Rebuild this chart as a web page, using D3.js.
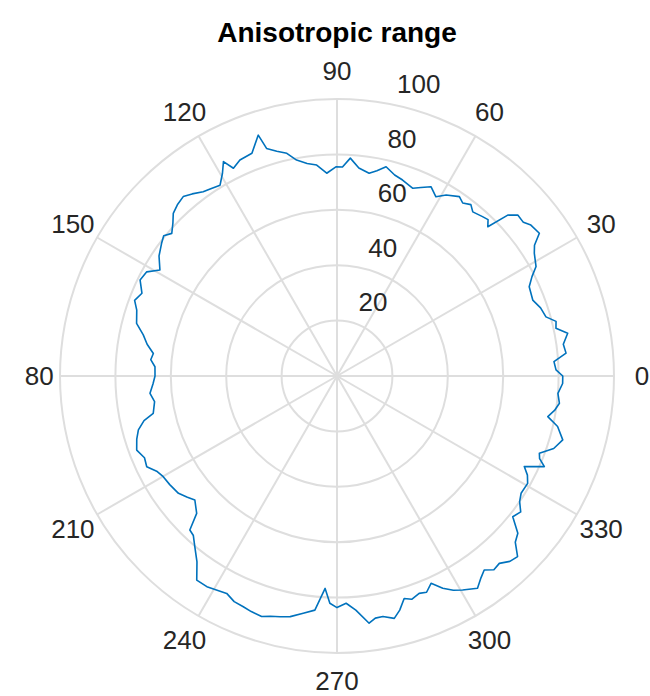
<!DOCTYPE html>
<html>
<head>
<meta charset="utf-8">
<script src="https://cdn.jsdelivr.net/npm/d3@7"></script>
<style>
  html, body { margin: 0; padding: 0; background: #fff; }
  svg { display: block; }
</style>
</head>
<body>
<svg id="chart" width="650" height="696"></svg>
<script>
// ---- data ----
const titleText = "Anisotropic range";
const rTicks = [20, 40, 60, 80, 100];
const rTickLabels = ["20", "40", "60", "80", "100"];
const thetaTicks = [0, 30, 60, 90, 120, 150, 180, 210, 240, 270, 300, 330];
const thetaTickLabels = ["0", "30", "60", "90", "120", "150", "80", "210", "240", "270", "300", "330"];
const anglesDeg = [
  0, 1.6, 3.8, 5.7, 8, 10.5, 12.3, 14, 15.8, 18.5, 21.2, 24.9, 27, 28.8, 31.9, 33.5, 35.2, 37.9, 39.5, 41.7,
  43.3, 44.7, 46, 47.6, 50.4, 52, 54, 55.7, 58.9, 61.1, 63.6, 66, 68, 71.5, 74, 76.8, 79, 81, 84, 86.5,
  88.5, 90.3, 92.9, 95.5, 98, 100.6, 102.7, 105, 107.2, 108.1, 110.9, 114.2, 116.5, 117.9, 119.5, 121.5, 124, 126, 128.5, 130.6,
  133, 135.2, 137, 139.2, 141, 142.9, 146, 149.1, 151.3, 154, 157, 159.5, 161.8, 165.3, 168, 170.5, 173, 175, 177.1, 180,
  182.5, 185.3, 188, 191.5, 193, 195.2, 197.5, 200.3, 203, 205.5, 208, 210.1, 213, 216.5, 219, 221.1, 224.4, 226.3, 228, 230.2,
  233, 235.5, 238.3, 243.1, 245.5, 247.9, 250, 252.6, 254.5, 256.7, 259, 261.9, 264.6, 266.8, 268.2, 270, 272.3, 274.6, 277.4, 279,
  280.8, 283.3, 285, 286.8, 288.5, 290.7, 292.5, 294.4, 296.5, 298.5, 300.4, 303.5, 305.5, 307.2, 309, 310.9, 313, 315, 317, 319,
  321.3, 323.5, 325.5, 327.5, 330.6, 332.5, 334.2, 336.4, 337.8, 339.1, 341.5, 344.2, 347.1, 349.1, 351, 353, 355.5, 358.1
];
const rangeValues = [
  81.5, 79.1, 78.5, 83.1, 82.5, 84.7, 80.9, 81.5, 78.4, 77.5, 75.8, 76.5, 79, 82, 83.9, 85.5, 89.4, 88.7, 87.2, 87.4,
  84.7, 76.6, 78.5, 77.9, 76.9, 78.5, 77.2, 78.4, 76.3, 73.9, 76.3, 74.5, 73.1, 74.6, 75.5, 77.6, 75.5, 74.1, 75.5, 78.8,
  75.5, 75.5, 73.3, 76.5, 77.5, 79.3, 82.4, 84, 86, 91.5, 86.1, 85.5, 83.8, 87.6, 84, 80.8, 81.5, 82.2, 84, 85.3,
  84.5, 83.3, 81, 78.8, 80.5, 79.4, 77.5, 74.5, 78.3, 79.1, 76.5, 78, 76.1, 74.8, 71.5, 69.5, 66.8, 67.5, 65.8, 65.7,
  66.5, 67.8, 66.5, 67.7, 71.5, 74.3, 75.8, 77.1, 75.5, 76.1, 73.5, 72.5, 72, 71.2, 69.5, 68.1, 70.9, 76.9, 77.5, 80.2,
  84, 89.4, 89.4, 88, 89.5, 89.9, 90.5, 91, 90, 89.3, 88.5, 86.5, 84.9, 76.8, 82.1, 83.6, 82.1, 84.8, 90, 88.5,
  88.4, 89.9, 87.5, 83.9, 85, 83.9, 84.5, 82.2, 85.6, 88, 89.6, 91.9, 89.5, 87.9, 90, 89.5, 91.5, 92.2, 88, 86.5,
  81.3, 82.5, 80, 78.8, 79, 77.5, 75.1, 81.7, 79, 78.2, 82.5, 84.7, 81.7, 77.5, 79.5, 80.9, 80, 81.5
];

// ---- layout ----
const cx = 337, cy = 376, R = 277;
const tickFont = 26, titleFont = 28;
const fontFamily = "'Liberation Sans', Arial, Helvetica, sans-serif";
const gridColor = "#dedede";
const textColor = "#262626";
const lineColor = "#0072BD";

const svg = d3.select("#chart");
svg.append("rect").attr("width", 650).attr("height", 696).attr("fill", "#fff");

const r = d3.scaleLinear().domain([0, 100]).range([0, R]);
const toRad = d => d * Math.PI / 180;

const g = svg.append("g").attr("transform", `translate(${cx},${cy})`);

// grid rings
g.selectAll("circle.ring").data(rTicks).join("circle")
  .attr("class", "ring")
  .attr("r", d => r(d))
  .attr("fill", "none")
  .attr("stroke", gridColor)
  .attr("stroke-width", 2);

// spokes
g.selectAll("line.spoke").data(thetaTicks).join("line")
  .attr("class", "spoke")
  .attr("x1", 0).attr("y1", 0)
  .attr("x2", d => r(100) * Math.cos(toRad(d)))
  .attr("y2", d => -r(100) * Math.sin(toRad(d)))
  .attr("stroke", gridColor)
  .attr("stroke-width", 2);

// data line
const pts = anglesDeg.map((a, i) => [a, rangeValues[i]]);
const line = d3.lineRadial()
  .angle(d => Math.PI / 2 - toRad(d[0]))
  .radius(d => r(d[1]))
  .curve(d3.curveLinearClosed);
g.append("path")
  .datum(pts)
  .attr("d", line)
  .attr("fill", "none")
  .attr("stroke", lineColor)
  .attr("stroke-width", 1.6)
  .attr("stroke-linejoin", "round");

// theta tick labels
const labR = R + 28;
g.selectAll("text.theta").data(thetaTicks).join("text")
  .attr("class", "theta")
  .attr("x", (d, i) => thetaTickLabels[i].length < String(d).length
        ? labR * Math.cos(toRad(d)) + String(d).length * 0.556 * tickFont / 2
        : labR * Math.cos(toRad(d)))
  .attr("y", d => -labR * Math.sin(toRad(d)) + 0.36 * tickFont)
  .attr("text-anchor", (d, i) => thetaTickLabels[i].length < String(d).length ? "end" : "middle")
  .attr("font-family", fontFamily)
  .attr("font-size", tickFont)
  .attr("fill", textColor)
  .text((d, i) => thetaTickLabels[i]);

// r tick labels along 80 degrees
const rAxisAngle = 80;
g.selectAll("text.rlab").data(rTicks).join("text")
  .attr("class", "rlab")
  .attr("x", d => r(d) * Math.cos(toRad(rAxisAngle)) + 12)
  .attr("y", d => -r(d) * Math.sin(toRad(rAxisAngle)) - 10)
  .attr("text-anchor", "start")
  .attr("font-family", fontFamily)
  .attr("font-size", tickFont)
  .attr("fill", textColor)
  .text((d, i) => rTickLabels[i]);

// title
svg.append("text")
  .attr("x", cx)
  .attr("y", 42)
  .attr("text-anchor", "middle")
  .attr("font-family", fontFamily)
  .attr("font-weight", "bold")
  .attr("font-size", titleFont)
  .attr("fill", "#000")
  .text(titleText);
</script>
</body>
</html>
